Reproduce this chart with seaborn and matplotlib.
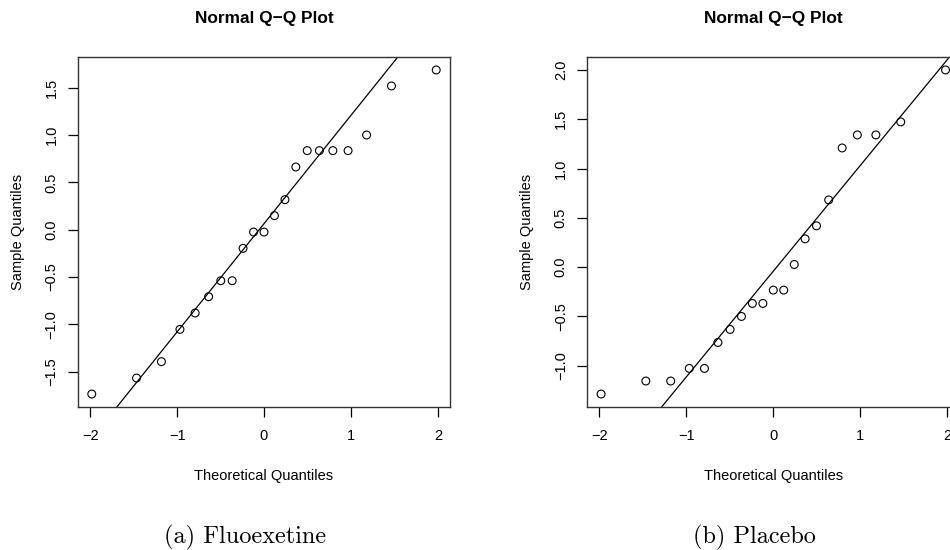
import matplotlib
matplotlib.use("Agg")
import matplotlib.pyplot as plt
import seaborn as sns
import numpy as np
import pandas as pd

# Theoretical normal quantiles for n = 21 (read from the x positions)
theoretical = [-1.981, -1.466, -1.180, -0.967, -0.792, -0.637, -0.497, -0.366, -0.241, -0.120,
               0.000, 0.120, 0.241, 0.366, 0.497, 0.637, 0.792, 0.967, 1.180, 1.466, 1.981]

fluoxetine = [-1.736, -1.567, -1.394, -1.053, -0.880, -0.708, -0.539, -0.539, -0.197, -0.025,
              -0.025, 0.148, 0.317, 0.662, 0.835, 0.835, 0.835, 0.835, 1.000, 1.518, 1.687]

placebo = [-1.287, -1.155, -1.155, -1.027, -1.027, -0.764, -0.632, -0.500, -0.368, -0.368,
           -0.233, -0.233, 0.027, 0.287, 0.419, 0.682, 1.209, 1.341, 1.341, 1.473, 2.000]

# standard normal quartiles used by R's qqline
normal_quartiles = [-0.6745, 0.6745]

captions = ["(a) Fluoexetine", "(b) Placebo"]
titles = ["Normal Q\u2212Q Plot", "Normal Q\u2212Q Plot"]
xticks = [-2, -1, 0, 1, 2]
yticks_a = [-1.5, -1.0, -0.5, 0.0, 0.5, 1.0, 1.5]
yticks_b = [-1.0, -0.5, 0.0, 0.5, 1.0, 1.5, 2.0]

sns.set_style("white")
plt.rcParams["font.family"] = ["Liberation Sans", "DejaVu Sans"]
plt.rcParams["axes.unicode_minus"] = True
plt.rcParams["text.color"] = "black"
plt.rcParams["axes.labelcolor"] = "black"
plt.rcParams["xtick.color"] = "black"
plt.rcParams["ytick.color"] = "black"

fig = plt.figure(figsize=(9.5, 5.5), dpi=100)
W, H = 950, 550
ax_a = fig.add_axes([78 / W, (550 - 407) / H, 372 / W, 350 / H])
ax_b = fig.add_axes([587.3 / W, (550 - 407) / H, 372 / W, 350 / H])


def qq_panel(ax, sample, yticks, title):
    df = pd.DataFrame({"theoretical": theoretical, "sample": sample})
    sns.scatterplot(data=df, x="theoretical", y="sample", ax=ax, marker="o",
                    facecolor="none", edgecolor="black", linewidth=0.8, s=32, zorder=3)
    # qqline through first and third quartiles
    s = np.array(sample)
    t = np.array(theoretical)
    q_s = np.quantile(s, [0.25, 0.75])
    ax.axline((normal_quartiles[0], q_s[0]), (normal_quartiles[1], q_s[1]),
              color="black", lw=0.9, zorder=2)
    # R-style 4% range extension
    tr = t.max() - t.min()
    sr = s.max() - s.min()
    ax.set_xlim(t.min() - 0.04 * tr, t.max() + 0.04 * tr)
    ax.set_ylim(s.min() - 0.04 * sr, s.max() + 0.04 * sr)
    ax.set_xticks(xticks)
    ax.set_xticklabels([f"{v:d}".replace("-", "\u2212") for v in xticks])
    ax.set_yticks(yticks)
    ax.set_yticklabels([f"{v:.1f}".replace("-", "\u2212") for v in yticks],
                       rotation=90, va="center")
    ax.tick_params(axis="both", which="major", direction="out", length=7, width=0.9,
                   color="black", labelcolor="black", labelsize=10.5,
                   bottom=True, left=True)
    ax.tick_params(axis="x", pad=9)
    ax.tick_params(axis="y", pad=7)
    for sp in ax.spines.values():
        sp.set_visible(True)
        sp.set_color("#333333")
        sp.set_linewidth(1.0)
    ax.set_xlabel("Theoretical Quantiles", fontsize=10.5, color="black")
    ax.set_ylabel("Sample Quantiles", fontsize=10.5, color="black")
    ax.xaxis.set_label_coords(0.5, -0.197)
    ax.yaxis.set_label_coords(-0.161, 0.5)
    ax.xaxis.label.set_verticalalignment("center")
    ax.yaxis.label.set_verticalalignment("center")
    ax.set_title(title, fontsize=12.4, fontweight="bold", y=1.097, pad=0, color="black")


qq_panel(ax_a, fluoxetine, yticks_a, titles[0])
qq_panel(ax_b, placebo, yticks_b, titles[1])

fig.text(245 / W, (550 - 543) / H, captions[0], fontfamily="cmr10", fontsize=17.5,
         ha="center", va="baseline", color="black")
fig.text(754 / W, (550 - 543) / H, captions[1], fontfamily="cmr10", fontsize=17.5,
         ha="center", va="baseline", color="black")

fig.savefig("out.png", dpi=100)
